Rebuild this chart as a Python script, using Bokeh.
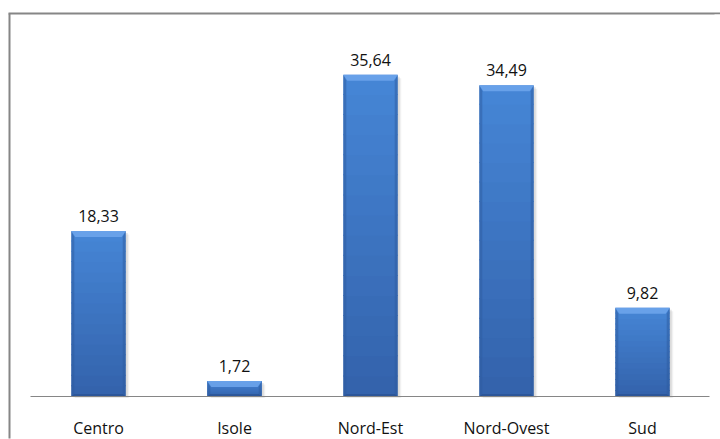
from bokeh.plotting import figure
from bokeh.models import Range1d, ColumnDataSource
from bokeh.core.properties import value
from bokeh.embed import file_html
from bokeh.resources import INLINE

# --- data ---------------------------------------------------------------
categories = ["Centro", "Isole", "Nord-Est", "Nord-Ovest", "Sud"]
values = [18.33, 1.72, 35.64, 34.49, 9.82]
value_labels = ["18,33", "1,72", "35,64", "34,49", "9,82"]

# --- canvas geometry (pixels) -------------------------------------------
W, H = 720, 439
PLOT_LEFT, PLOT_RIGHT = 30, 710      # extent of the category band
BASE_PY, TOP_PY = 396, 35            # pixel rows of value 0 and of Y_MAX
Y_MAX = 40.0
BAR_W = 0.4                          # fraction of a category slot

n = len(categories)
slot = (PLOT_RIGHT - PLOT_LEFT) / n  # pixels per category
ppu = (BASE_PY - TOP_PY) / Y_MAX     # pixels per value unit

# the data frame fills the whole canvas; ranges are set so the bars land
# in the category band
x0_px = PLOT_LEFT + slot / 2
x_start = -x0_px / slot
x_end = (W - x0_px) / slot
y_start = -(H - BASE_PY) / ppu
y_end = BASE_PY / ppu


def px_x(px):
    return (px - x0_px) / slot


def px_y(py):
    return (BASE_PY - py) / ppu


p = figure(width=W, height=H, output_backend="svg", toolbar_location=None,
           x_range=Range1d(x_start, x_end), y_range=Range1d(y_start, y_end),
           min_border=0, min_border_left=0, min_border_right=0,
           min_border_top=0, min_border_bottom=0)
p.xaxis.visible = False
p.yaxis.visible = False
p.grid.visible = False
p.outline_line_color = None
p.background_fill_color = "white"
p.border_fill_color = "white"

# chart border (top and left edges)
p.segment(x0=[px_x(9), px_x(8)], y0=[px_y(13), px_y(13)],
          x1=[px_x(9), x_end], y1=[px_y(438), px_y(13)],
          line_color="#868686", line_width=2)

xs = list(range(n))
half = BAR_W / 2

# soft drop shadow
for off, alpha in ((3.5, 0.10), (2.0, 0.18)):
    dx_s, dy_s = off / slot, off / ppu
    p.quad(left=[x - half + dx_s for x in xs], right=[x + half + dx_s for x in xs],
           top=[v - dy_s for v in values], bottom=[-dy_s * 0.4] * n,
           fill_color="#7a7a7a", fill_alpha=alpha, line_color=None)


def mix(c1, c2, t):
    a = [int(c1[i:i + 2], 16) for i in (1, 3, 5)]
    b = [int(c2[i:i + 2], 16) for i in (1, 3, 5)]
    return "#%02x%02x%02x" % tuple(round(a[i] + (b[i] - a[i]) * t) for i in range(3))


# vertical gradient body of each bar (bands overlap slightly so no seams show)
BANDS = 16
bottom_col, top_col = "#3362ab", "#4686d6"
overlap = 1.0 / ppu
for k in range(BANDS):
    t0, t1 = k / BANDS, (k + 1) / BANDS
    col = mix(bottom_col, top_col, (t0 + t1) / 2)
    tops = [v * t1 + (overlap if k < BANDS - 1 else 0) for v in values]
    p.quad(left=[x - half for x in xs], right=[x + half for x in xs],
           bottom=[v * t0 for v in values], top=[min(t, v) for t, v in zip(tops, values)],
           fill_color=col, line_color=None)

# bevel edges
bx, by = 4 / slot, 6 / ppu
sx = 3 / slot
top_xs, top_ys, side_xs, side_ys, bot_xs, bot_ys = [], [], [], [], [], []
for x, v in zip(xs, values):
    l, r = x - half, x + half
    h_top = min(by, v / 2)
    top_xs.append([l, r, r - bx, l + bx])
    top_ys.append([v, v, v - h_top, v - h_top])
    side_xs.append([l, l + sx, l + sx, l])
    side_ys.append([v, v - h_top, 0, 0])
    side_xs.append([r, r - sx, r - sx, r])
    side_ys.append([v, v - h_top, 0, 0])
    hb = min(2.5 / ppu, v / 4)
    bot_xs.append([l, r, r - sx, l + sx])
    bot_ys.append([0, 0, hb, hb])

p.patches(side_xs, side_ys, fill_color="#2d5b9f", fill_alpha=0.5, line_color=None)
p.patches(bot_xs, bot_ys, fill_color="#284f8c", fill_alpha=0.6, line_color=None)
p.patches(top_xs, top_ys, fill_color="#6ea6ec", fill_alpha=0.85, line_color=None)

# category baseline
p.segment(x0=[px_x(PLOT_LEFT)], y0=[0], x1=[px_x(PLOT_RIGHT - 1)], y1=[0],
          line_color="#868686", line_width=1)

# keep the right margin of the chart area plain white
p.quad(left=[px_x(714)], right=[x_end], bottom=[y_start], top=[px_y(14)],
       fill_color="white", line_color=None)

FONT = value("Open Sans")
src = ColumnDataSource(dict(x=xs, v=values, lab=value_labels, cat=categories, z=[0] * n))

# value labels above the bars
p.text(x="x", y="v", text="lab", source=src, text_font=FONT, text_font_size="16px",
       text_color="#111111", text_align="center", text_baseline="alphabetic", y_offset=-15)

# category labels under the baseline
p.text(x="x", y="z", text="cat", source=src, text_font=FONT, text_font_size="16px",
       text_color="#111111", text_align="center", text_baseline="alphabetic", y_offset=31)

open("out.html", "w").write(file_html(p, INLINE))
